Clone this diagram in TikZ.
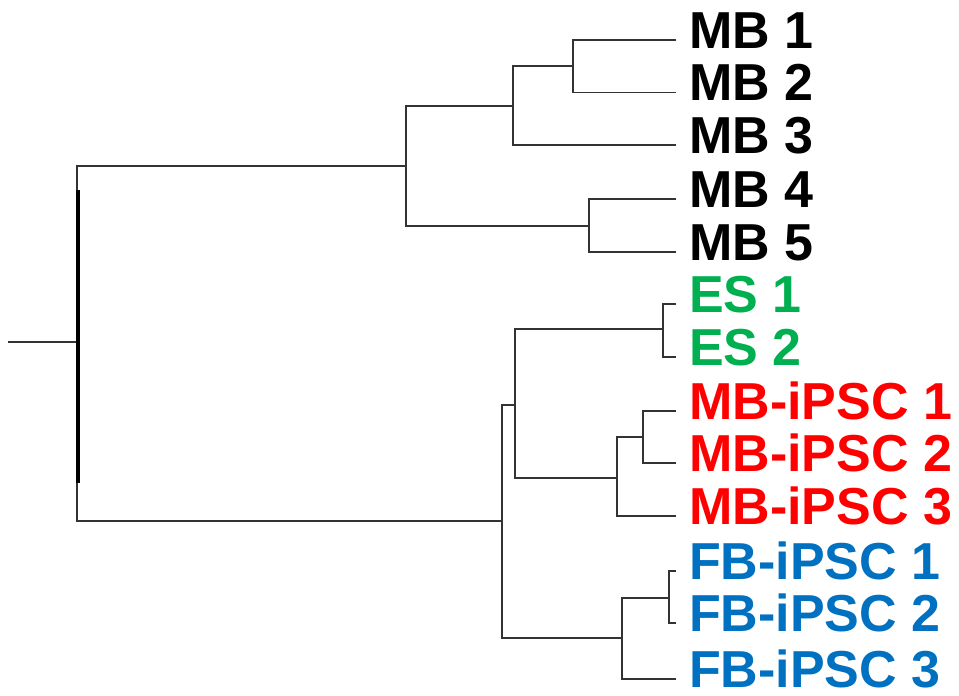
\documentclass[tikz,border=0pt]{standalone}
\usepackage{fontspec}
\setmainfont{Liberation Sans}
\definecolor{esgreen}{RGB}{0,176,80}
\definecolor{mbred}{RGB}{255,0,0}
\definecolor{fbblue}{RGB}{0,112,192}
\begin{document}
\begin{tikzpicture}[x=1pt,y=-1pt,
  branch/.style={line width=1.1pt, draw=black!80},
  lab/.style={anchor=base west, inner sep=0pt, font=\fontsize{52}{52}\selectfont\bfseries}]
\useasboundingbox (0,0) rectangle (959,696);
% leaves
\coordinate (l1) at (676,40);
\coordinate (l2) at (676,92.5);
\coordinate (l3) at (676,145);
\coordinate (l4) at (676,199);
\coordinate (l5) at (676,252);
\coordinate (l6) at (676,304);
\coordinate (l7) at (676,357);
\coordinate (l8) at (676,411);
\coordinate (l9) at (676,463);
\coordinate (l10) at (676,516);
\coordinate (l11) at (676,571);
\coordinate (l12) at (676,623);
\coordinate (l13) at (676,679);
% labels
\node[lab] (t1) at (689,48) {MB 1};
\node[lab] (t2) at (689,100.5) {MB 2};
\node[lab] (t3) at (689,153) {MB 3};
\node[lab] (t4) at (689,207) {MB 4};
\node[lab] (t5) at (689,260) {MB 5};
\node[lab,text=esgreen] (t6) at (689,312) {ES 1};
\node[lab,text=esgreen] (t7) at (689,365) {ES 2};
\node[lab,text=mbred] (t8) at (689,419) {MB-iPSC 1};
\node[lab,text=mbred] (t9) at (689,471) {MB-iPSC 2};
\node[lab,text=mbred] (t10) at (689,524) {MB-iPSC 3};
\node[lab,text=fbblue] (t11) at (689,579) {FB-iPSC 1};
\node[lab,text=fbblue] (t12) at (689,631) {FB-iPSC 2};
\node[lab,text=fbblue] (t13) at (689,687) {FB-iPSC 3};
% internal nodes
\coordinate (n12) at (573,66);
\coordinate (n123) at (513,106);
\coordinate (n45) at (589,226);
\coordinate (nMB) at (406,166);
\coordinate (n67) at (663,329);
\coordinate (n89) at (643,437);
\coordinate (n8910) at (617,478);
\coordinate (nESMB) at (515,405);
\coordinate (n1112) at (669,598);
\coordinate (nFB) at (622,638);
\coordinate (nB) at (502,521);
\coordinate (root) at (77,342);
\coordinate (stub) at (8,342);
% branches
\draw[branch] (l1) -| (n12) |- (l2);
\draw[branch] (n12) -| (n123) |- (l3);
\draw[branch] (l4) -| (n45) |- (l5);
\draw[branch] (n123) -| (nMB) |- (n45);
\draw[branch] (l6) -| (n67) |- (l7);
\draw[branch] (l8) -| (n89) |- (l9);
\draw[branch] (n89) -| (n8910) |- (l10);
\draw[branch] (n67) -| (nESMB) |- (n8910);
\draw[branch] (l11) -| (n1112) |- (l12);
\draw[branch] (n1112) -| (nFB) |- (l13);
\draw[branch] (nESMB) -| (nB) |- (nFB);
\draw[branch] (nMB) -| (root) |- (nB);
\draw[branch] (stub) -- (root);
\coordinate (thA) at (77.8,190);
\coordinate (thB) at (77.8,483);
\draw[line width=3.5pt] (thA) -- (thB);
\end{tikzpicture}
\end{document}
